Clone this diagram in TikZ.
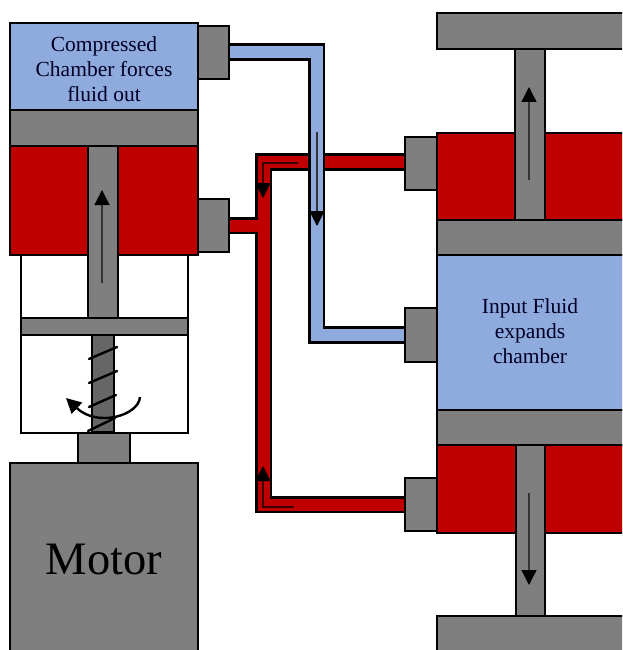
\documentclass[tikz,border=0pt]{standalone}
\usepackage{fontspec}
\usepackage{xcolor}
\setmainfont{Liberation Serif}
\usetikzlibrary{arrows.meta}
\definecolor{fluidblue}{HTML}{8FAADC}
\definecolor{fluidred}{HTML}{C00000}
\definecolor{steelgray}{HTML}{7F7F7F}
\definecolor{screwgray}{HTML}{666666}
\tikzset{
	part/.style={draw=black, line width=2.7pt, fill=steelgray},
	redpart/.style={part, fill=fluidred},
	bluepart/.style={part, fill=fluidblue},
	whitepart/.style={part, fill=white},
	pipeout/.style={draw=black, line width=17.5pt, miter limit=10},
	pipein/.style={line width=12pt, miter limit=10},
	flow/.style={draw=black!80, line width=1.3pt, -{Triangle[length=15pt,width=15pt,color=black]}},
	thread/.style={draw=black, line width=2.4pt, line cap=round},
	label/.style={align=center, text=black!85!blue, font=\fontsize{21.5}{24.7}\selectfont}
}
\begin{document}
\begin{tikzpicture}[x=1pt, y=-1pt]
	\useasboundingbox (0,0) rectangle (622,650);
	\fill[white] (0,0) rectangle (622,650);
	\clip (0,0) rectangle (622,650);
	% red pipes
	\path[pipeout] (405,162) -- (263.5,162) -- (263.5,504.5) -- (405,504.5);
	\path[pipeout] (229,225.5) -- (263.5,225.5);
	\path[pipein, draw=fluidred] (405,162) -- (263.5,162) -- (263.5,504.5) -- (405,504.5);
	\path[pipein, draw=fluidred] (229,225.5) -- (263.5,225.5);
	% blue pipe
	\path[pipeout] (229,52) -- (316.5,52) -- (316.5,335) -- (405,335);
	\path[pipein, draw=fluidblue] (229,52) -- (316.5,52) -- (316.5,335) -- (405,335);
	% pump
	\draw[whitepart] (21,255) rectangle (188,433);
	\draw[part, fill=screwgray] (92,335) rectangle (114,432);
	\draw[thread] (89,359) -- (117,347);
	\draw[thread] (89,383) -- (117,371);
	\draw[thread] (89,407) -- (116,395);
	\draw[thread] (88,431) -- (115,418);
	\draw[bluepart] (10,23) rectangle (198,110);
	\draw[part] (10,110) rectangle (198,146);
	\draw[redpart] (10,146) rectangle (198,255);
	\draw[part] (88,146) rectangle (118,318);
	\draw[part] (21,318) rectangle (188,335);
	\draw[part] (198,26) rectangle (229,79);
	\draw[part] (198,199) rectangle (229,252);
	\draw[part] (78,433) rectangle (130,463);
	\draw[part] (10,463) rectangle (198,660);
	% actuator
	\draw[part] (437,13) rectangle (630,49);
	\draw[redpart] (437,133) rectangle (630,220);
	\draw[part] (515,49) rectangle (545,220);
	\draw[part] (437,220) rectangle (630,255);
	\draw[bluepart] (437,255) rectangle (630,410);
	\draw[part] (437,410) rectangle (630,445);
	\draw[redpart] (437,445) rectangle (630,533);
	\draw[part] (516,445) rectangle (545,616);
	\draw[part] (437,616) rectangle (630,660);
	\draw[part] (405,137) rectangle (437,190);
	\draw[part] (405,308) rectangle (437,362);
	\draw[part] (405,478) rectangle (437,531);
	% flow arrows
	\draw[flow] (102,283) -- (102,190);
	\draw[flow] (529,180) -- (529,87);
	\draw[flow] (529,493) -- (529,585);
	\draw[flow] (317,132) -- (317,226);
	\draw[flow, draw=black!70!fluidred] (298,163) -- (263,163) -- (263,198);
	\draw[flow, draw=black!70!fluidred] (294,507) -- (263,507) -- (263,466);
	\draw[draw=black, line width=2.4pt, -{Triangle[length=15pt,width=15pt]}] (140,397) .. controls (139,415) and (98,428) .. (66,398);
	% labels
	\node[label] (pumptext) at (104,69) {Compressed\\Chamber forces\\fluid out};
	\node[label] (chambertext) at (530,331) {Input Fluid\\expands\\chamber};
	\node[font=\fontsize{46.5}{50}\selectfont, text=black] (motortext) at (104,559) {Motor};
\end{tikzpicture}
\end{document}
